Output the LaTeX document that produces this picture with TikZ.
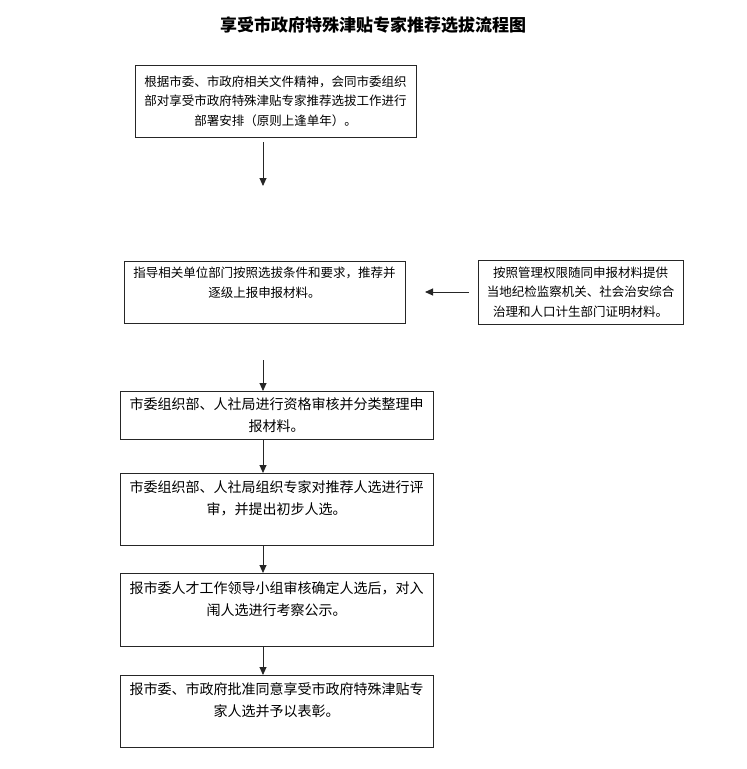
\documentclass[tikz,border=0pt]{standalone}
\usepackage{fontspec}
\newfontfamily\cjk{Noto Sans CJK SC}
\usetikzlibrary{positioning, calc, arrows.meta}

\begin{document}
\begin{tikzpicture}[
  x=1pt, y=-1pt,
  %% main flow boxes
  fbox/.style={
    rectangle, draw=black!85, line width=0.9pt,
    inner sep=0pt, outer sep=0pt,
    text width=313pt, minimum height=72pt, align=center,
    font=\cjk\fontsize{14}{22}\selectfont
  },
  %% smaller text in the upper boxes
  small/.style={font=\cjk\fontsize{12.5}{19.5}\selectfont},
  %% arrows
  arr/.style={-{Triangle[length=8pt,width=7pt]}, line width=0.9pt, draw=black!85},
  %% title
  ttl/.style={font=\cjk\bfseries\fontsize{17}{20}\selectfont}
]

\useasboundingbox (0,0) rectangle (747,769);

%% ================================================================
%% TITLE
%% ================================================================
\node[ttl] (title) at (373,25) {享受市政府特殊津贴专家推荐选拔流程图};

%% ================================================================
%% ARRANGEMENT
%% ================================================================
\node[fbox, small, text width=281pt] (plan) at (275.5,101) {
  根据市委、市政府相关文件精神，会同市委组织\\
  部对享受市政府特殊津贴专家推荐选拔工作进行\\
  部署安排（原则上逢单年）。
};

\coordinate (spine) at (263,0);
\coordinate (gapend) at (263,186);
\draw[arr] ([yshift=-5pt]plan.south -| spine) -- (gapend);

%% ================================================================
%% RECOMMENDATION
%% ================================================================
\node[fbox, small, text width=281pt, minimum height=62pt] (recom) at (264.5,292) {
  指导相关单位部门按照选拔条件和要求，推荐并\\
  逐级上报申报材料。\\ \mbox{}
};

\node[fbox, small, text width=205pt, minimum height=64pt,
      right=73pt of recom] (proof) {
  按照管理权限随同申报材料提供\\
  当地纪检监察机关、社会治安综合\\
  治理和人口计生部门证明材料。
};

\coordinate (sideend) at (425,292);
\draw[arr] ([xshift=-9pt]proof.west) -- (sideend);

%% ================================================================
%% REVIEW
%% ================================================================
\node[fbox, minimum height=48pt] (check) at (276.5,415) {
  市委组织部、人社局进行资格审核并分类整理申\\
  报材料。
};

\coordinate (gapstart) at (263,360);
\draw[arr] (gapstart) -- (check.north -| spine);

\node[fbox] (expert) at (276.5,509) {
  市委组织部、人社局组织专家对推荐人选进行评\\
  审，并提出初步人选。\\ \mbox{}
};

\draw[arr] (check.south -| spine) -- (expert.north -| spine);

\node[fbox, minimum height=73pt] (publicity) at (276.5,609.5) {
  报市委人才工作领导小组审核确定人选后，对入\\
  闱人选进行考察公示。\\ \mbox{}
};

\draw[arr] (expert.south -| spine) -- (publicity.north -| spine);

%% ================================================================
%% APPROVAL
%% ================================================================
\node[fbox] (approve) at (276.5,711) {
  报市委、市政府批准同意享受市政府特殊津贴专\\
  家人选并予以表彰。\\ \mbox{}
};

\draw[arr] (publicity.south -| spine) -- (approve.north -| spine);

\end{tikzpicture}
\end{document}
